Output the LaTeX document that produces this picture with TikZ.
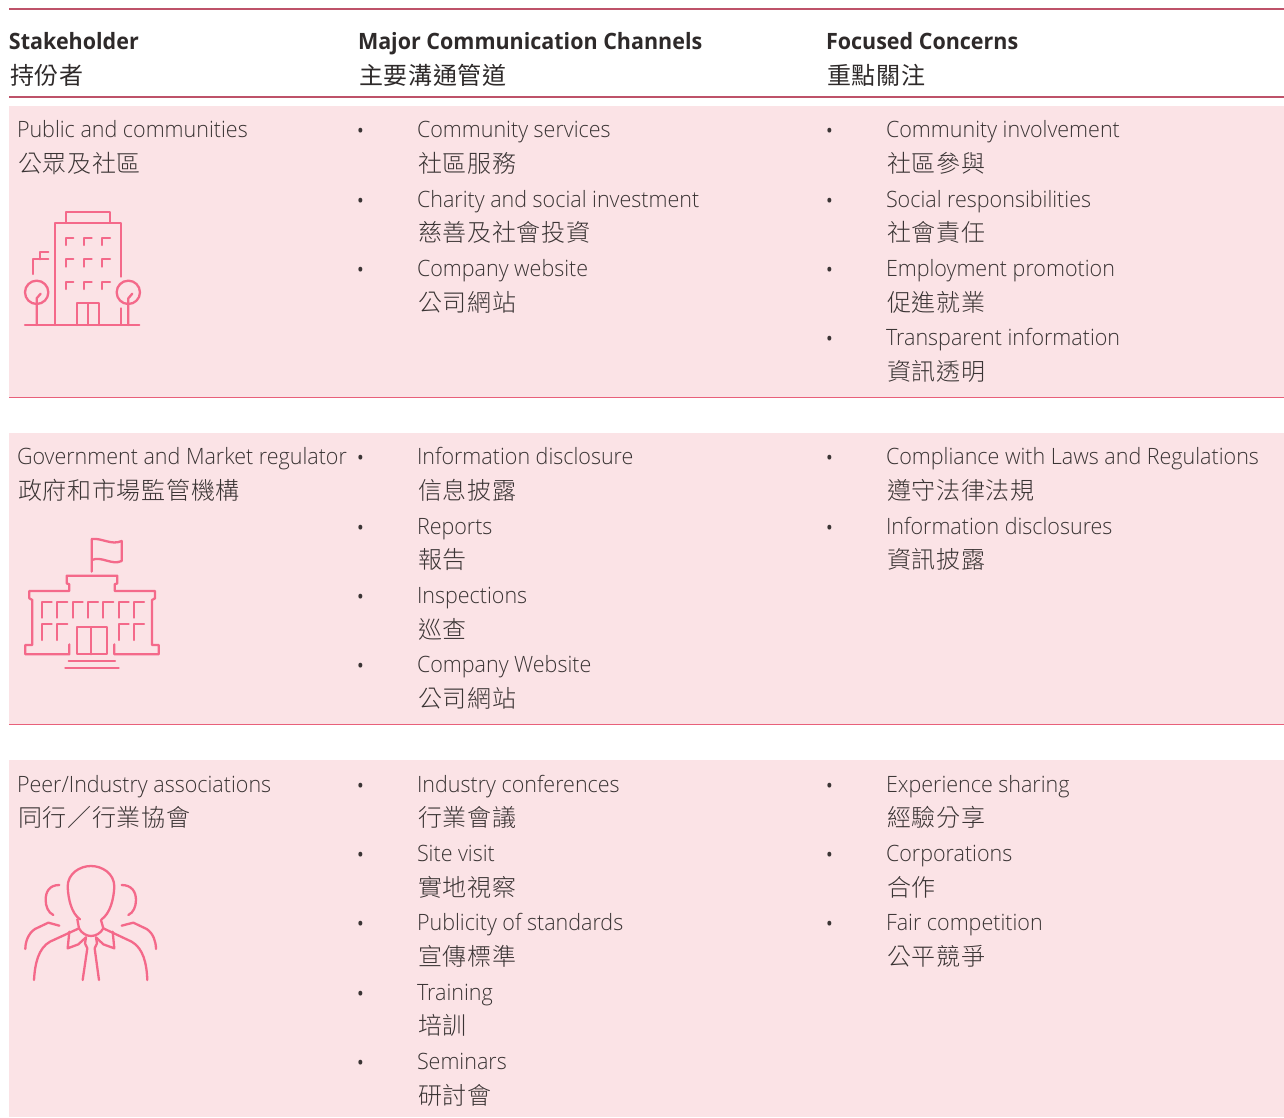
\documentclass[tikz,border=0pt]{standalone}
\usepackage{fontspec}
\setmainfont{Open Sans Light}[FakeStretch=0.955]
\newfontfamily\hfont{Open Sans Bold}[FakeStretch=0.955]
\newfontfamily\cjkl{Noto Sans CJK TC Light}[LetterSpace=3]
\newfontfamily\cjkm{Noto Sans CJK TC}[LetterSpace=3]
\definecolor{band}{HTML}{FBE3E6}
\definecolor{ink}{HTML}{3A3434}
\definecolor{hink}{HTML}{2E2A2A}
\definecolor{icon}{HTML}{F4698A}
\definecolor{rulea}{HTML}{BE5269}
\definecolor{ruleb}{HTML}{E8607A}
\newcounter{tn}
\newcommand{\en}[3]{\stepcounter{tn}\node[txt,name=t\thetn] at (#1,#2+8) {\fontsize{22.5}{23}\selectfont #3};}
\newcommand{\zh}[3]{\stepcounter{tn}\node[txt,name=t\thetn] at (#1+1,#2+9.5) {\cjkl\fontsize{24}{24}\selectfont #3};}
\newcommand{\itm}[5][34]{\stepcounter{tn}\node[txt,name=t\thetn] at (#2-61.5,#3+11) {\fontsize{27}{27}\selectfont •};\en{#2}{#3}{#4}\zh{#2}{#3+#1}{#5}}
\newcommand{\hd}[3]{\stepcounter{tn}\node[txt,text=hink,name=t\thetn] at (#1,49) {\hfont\fontsize{22.5}{23}\selectfont #2};\stepcounter{tn}\node[txt,text=hink,name=t\thetn] at (#1+1,84) {\cjkm\fontsize{24}{24}\selectfont #3};}
\tikzset{txt/.style={anchor=base west,inner sep=0,outer sep=0,text=ink},
ic/.style={draw=icon,line width=2.3pt,line cap=round,line join=round,fill=none}}
\begin{document}
\begin{tikzpicture}[x=1pt,y=-1pt]
\useasboundingbox (0,0) rectangle (1284,1117);
\fill[white] (0,0) rectangle (1284,1117);
\draw[rulea,line width=1.3pt] (9,9)--(1284,9);
\draw[rulea,line width=2.4pt] (9,97)--(1284,97);
\fill[band] (9,106) rectangle (1284,397);
\fill[band] (9,433) rectangle (1284,724);
\fill[band] (9,760) rectangle (1284,1117);
\draw[ruleb,line width=1pt] (9,397.5)--(1284,397.5);
\draw[ruleb,line width=1pt] (9,724.5)--(1284,724.5);
\hd{9}{Stakeholder}{持份者}
\hd{358}{Major Communication Channels}{主要溝通管道}
\hd{826}{Focused Concerns}{重點關注}
\en{17}{129}{Public and communities}\zh{17}{163}{公眾及社區}
\itm{417}{129}{Community services}{社區服務}
\itm[33]{417}{199}{Charity and social investment}{慈善及社會投資}
\itm{417}{268}{Company website}{公司網站}
\itm{886}{129}{Community involvement}{社區參與}
\itm[33]{886}{199}{Social responsibilities}{社會責任}
\itm{886}{268}{Employment promotion}{促進就業}
\itm{886}{337}{Transparent information}{資訊透明}
\en{17}{456}{Government and Market regulator}\zh{17}{490}{政府和市場監管機構}
\itm{417}{456}{Information disclosure}{信息披露}
\itm[33]{417}{526}{Reports}{報告}
\itm{417}{595}{Inspections}{巡查}
\itm{417}{664}{Company Website}{公司網站}
\itm{886}{456}{Compliance with Laws and Regulations}{遵守法律法規}
\itm[33]{886}{526}{Information disclosures}{資訊披露}
\en{17}{784}{Peer/Industry associations}\zh{17}{817}{同行／行業協會}
\itm[33]{417}{784}{Industry conferences}{行業會議}
\itm{417}{853}{Site visit}{實地視察}
\itm{417}{922}{Publicity of standards}{宣傳標準}
\itm[33]{417}{992}{Training}{培訓}
\itm{417}{1061}{Seminars}{研討會}
\itm[33]{886}{784}{Experience sharing}{經驗分享}
\itm{886}{853}{Corporations}{合作}
\itm{886}{922}{Fair competition}{公平競爭}
% icon 1
\begin{scope}[shift={(0,190)},x=0.3333pt,y=-0.3333pt]
\draw[ic] (197,98)--(197,66)--(330,66)--(330,98);
\draw[ic] (165,405)--(165,98)--(362,98)--(362,260);
\draw[ic] (362,355)--(362,405);
\draw[ic] (75,405)--(418,405);
\foreach \y in {143,208,275}\foreach \x in {197,252,307}
 \draw[ic] (\x,\y+22)--(\x,\y)--(\x+23,\y);
\draw[ic] (230,405)--(230,340)--(298,340)--(298,405);
\draw[ic] (264,340)--(264,405);
\draw[ic] (100,252)--(100,208)--(145,208);
\draw[ic] (120,208)--(120,186)--(145,186);
\draw[ic] (110,307) circle (35);
\draw[ic] (110,405)--(110,325)--(122,311);
\draw[ic] (385,307) circle (35);
\draw[ic] (385,405)--(385,325)--(397,311);
\end{scope}
% icon 2
\begin{scope}[shift={(0,525)},x=0.3333pt,y=-0.3333pt]
\draw[ic] (275,140)--(275,42) .. controls (305,38) and (335,62) .. (365,48)--(365,108) .. controls (335,122) and (305,92) .. (275,105);
\draw[ic] (208,358)--(208,388)--(76,388)--(76,360)--(97,360)--(97,225)--(88,220)--(88,198)--(208,198)--(208,178)--(200,175)--(200,152)--(352,152)--(352,175)--(344,178)--(344,198)--(465,198)--(465,220)--(456,225)--(456,360)--(476,360)--(476,388)--(343,388)--(343,358);
\foreach \x in {125,172,218,264,310,356,402} \draw[ic] (\x,278)--(\x,232)--(\x+30,232);
\foreach \x in {125,172,356,402} \draw[ic] (\x,345)--(\x,298)--(\x+30,298);
\draw[ic] (232,388)--(232,307)--(320,307)--(320,388)--cycle;
\draw[ic] (274,307)--(274,388);
\draw[ic] (206,408)--(345,408);
\draw[ic] (196,430)--(356,430);
\end{scope}
% icon 3
\begin{scope}[shift={(0,850)},x=0.3333pt,y=-0.3333pt]
\draw[ic] (240,208) .. controls (215,190) and (205,150) .. (203,110) .. controls (203,70) and (240,48) .. (273,48) .. controls (306,48) and (343,70) .. (343,110) .. controls (341,150) and (330,190) .. (305,208);
\draw[ic] (232,208)--(237,235) .. controls (245,250) and (260,258) .. (273,258) .. controls (287,258) and (302,250) .. (310,235)--(303,210);
\draw[ic] (237,235)--(150,275) .. controls (115,295) and (105,340) .. (102,390);
\draw[ic] (310,235)--(395,275) .. controls (430,295) and (440,340) .. (442,390);
\draw[ic] (208,245)--(203,295)--(235,283)--(258,262);
\draw[ic] (338,245)--(343,295)--(310,283)--(288,262);
\draw[ic] (258,262)--(255,280)--(262,295)--(248,390);
\draw[ic] (288,262)--(291,280)--(284,295)--(297,390);
\draw[ic] (178,105) .. controls (148,105) and (137,125) .. (137,150) .. controls (137,170) and (145,188) .. (160,195);
\draw[ic] (365,105) .. controls (395,105) and (408,125) .. (408,150) .. controls (408,170) and (400,188) .. (385,195);
\draw[ic] (178,227)--(145,218)--(105,237) .. controls (85,250) and (76,275) .. (76,297);
\draw[ic] (365,227)--(400,218)--(440,237) .. controls (460,250) and (468,275) .. (468,297);
\end{scope}
\end{tikzpicture}
\end{document}
